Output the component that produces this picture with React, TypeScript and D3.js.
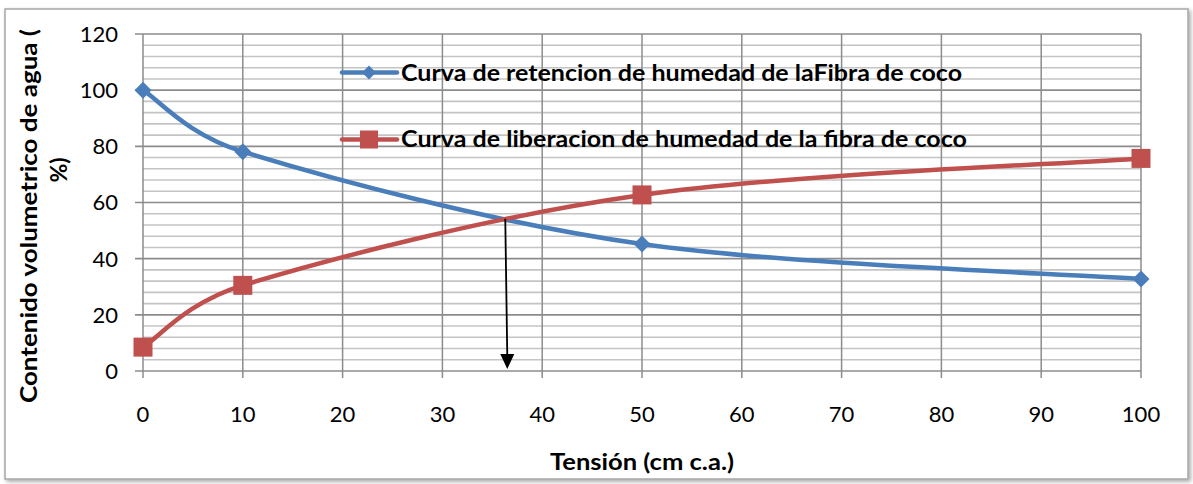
import React from "react";
import * as d3 from "d3";

const tension = [0, 10, 50, 100];
const retencion = [100, 78.1, 45.2, 32.8];
const liberacion = [8.5, 30.5, 62.7, 75.7];
const xTicks = [0, 10, 20, 30, 40, 50, 60, 70, 80, 90, 100];
const yMajor = [0, 20, 40, 60, 80, 100, 120];
const yMinor = d3.range(0, 121, 4);
const legendLabels = [
  "Curva de retencion de humedad de laFibra de coco",
  "Curva de liberacion de humedad de la fibra de coco",
];
const yTitle = ["Contenido volumetrico de agua (", "%)"];
const xTitle = "Tensión (cm c.a.)";
// arrow annotation (data space): from the crossing point down to the axis
const arrowFrom = [36.3, 54.2];
const arrowTo = [36.5, 0.7];

const BLUE = "#4a7ebb";
const RED = "#c0504d";
const FONT = "Lato, 'Open Sans', sans-serif";

// Excel-like smoothed line: Bezier with 1/6 tangents, capped at half the segment length
function excelSmooth(pts: [number, number][]) {
  const p = d3.path();
  const n = pts.length;
  const dist = (a: number[], b: number[]) => Math.hypot(b[0] - a[0], b[1] - a[1]);
  p.moveTo(pts[0][0], pts[0][1]);
  for (let i = 0; i < n - 1; i++) {
    const p0 = pts[Math.max(0, i - 1)];
    const p1 = pts[i];
    const p2 = pts[i + 1];
    const p3 = pts[Math.min(n - 1, i + 2)];
    const d12 = dist(p1, p2);
    let t1x = (p2[0] - p0[0]) / 6, t1y = (p2[1] - p0[1]) / 6;
    let t2x = (p3[0] - p1[0]) / 6, t2y = (p3[1] - p1[1]) / 6;
    const l1 = Math.hypot(t1x, t1y), l2 = Math.hypot(t2x, t2y);
    if (l1 > d12 / 2) { t1x *= d12 / 2 / l1; t1y *= d12 / 2 / l1; }
    if (l2 > d12 / 2) { t2x *= d12 / 2 / l2; t2y *= d12 / 2 / l2; }
    p.bezierCurveTo(p1[0] + t1x, p1[1] + t1y, p2[0] - t2x, p2[1] - t2y, p2[0], p2[1]);
  }
  return p.toString();
}

export default function App() {
  const W = 1193, H = 484;
  const x = d3.scaleLinear().domain([0, 100]).range([143, 1141]);
  const y = d3.scaleLinear().domain([0, 120]).range([371, 34]);
  const blueData = tension.map((t, i) => [t, retencion[i]] as [number, number]);
  const redData = tension.map((t, i) => [t, liberacion[i]] as [number, number]);
  const toPx = (d: [number, number]) => [x(d[0]), y(d[1])] as [number, number];

  const diamond = (cx: number, cy: number, r: number) =>
    `M${cx},${cy - r}L${cx + r},${cy}L${cx},${cy + r}L${cx - r},${cy}Z`;

  const ax1 = x(arrowFrom[0]), ay1 = y(arrowFrom[1]);
  const ax2 = x(arrowTo[0]), ay2 = y(arrowTo[1]);

  return (
    <svg
      width={W}
      height={H}
      style={{ position: "absolute", left: 0, top: 0, display: "block", background: "#fff" }}
      fontFamily={FONT}
    >
      <defs>
        <filter id="shadow" x="-2%" y="-2%" width="104%" height="106%">
          <feGaussianBlur in="SourceAlpha" stdDeviation="2" />
          <feOffset dx="2" dy="2" result="b" />
          <feComponentTransfer>
            <feFuncA type="linear" slope="0.35" />
          </feComponentTransfer>
          <feMerge>
            <feMergeNode />
            <feMergeNode in="SourceGraphic" />
          </feMerge>
        </filter>
      </defs>
      <rect x={5} y={9} width={1183} height={470} fill="#fff" stroke="#a6a6a6" strokeWidth={1.5} filter="url(#shadow)" />

      {/* minor gridlines */}
      {yMinor.filter((v) => v % 20 !== 0).map((v) => (
        <line key={"mn" + v} x1={x(0)} x2={x(100)} y1={y(v)} y2={y(v)} stroke="#c4c4c4" strokeWidth={1.6} />
      ))}
      {/* vertical gridlines */}
      {xTicks.map((v) => (
        <line key={"vx" + v} x1={x(v)} x2={x(v)} y1={y(120)} y2={y(0) + 7} stroke="#8c8c8c" strokeWidth={1.5} />
      ))}
      {/* major gridlines */}
      {yMajor.map((v) => (
        <line key={"mj" + v} x1={x(0) - 8} x2={x(100)} y1={y(v)} y2={y(v)} stroke="#8c8c8c" strokeWidth={1.6} />
      ))}

      {/* y tick labels */}
      {yMajor.map((v) => (
        <text key={"yl" + v} x={118} y={y(v)} dy="0.36em" textAnchor="end" fontSize={22} fill="#000">
          {v}
        </text>
      ))}
      {/* x tick labels */}
      {xTicks.map((v) => (
        <text key={"xl" + v} x={x(v)} y={421.5} textAnchor="middle" fontSize={22} fill="#000">
          {v}
        </text>
      ))}

      {/* series */}
      <path d={excelSmooth(blueData.map(toPx))} fill="none" stroke={BLUE} strokeWidth={4.5} strokeLinecap="round" />
      <path d={excelSmooth(redData.map(toPx))} fill="none" stroke={RED} strokeWidth={4.5} strokeLinecap="round" />
      {blueData.map((d, i) => (
        <path key={"bd" + i} d={diamond(x(d[0]), y(d[1]), 8.5)} fill={BLUE} />
      ))}
      {redData.map((d, i) => (
        <rect key={"rs" + i} x={x(d[0]) - 9.5} y={y(d[1]) - 9.5} width={19} height={19} fill={RED} />
      ))}

      {/* arrow annotation */}
      <line x1={ax1} y1={ay1} x2={ax2} y2={ay2 - 13} stroke="#000" strokeWidth={1.8} />
      <path d={`M${ax2},${ay2}L${ax2 - 7},${ay2 - 15}L${ax2 + 7},${ay2 - 15}Z`} fill="#000" />

      {/* legend */}
      <line x1={342} x2={397} y1={72.5} y2={72.5} stroke={BLUE} strokeWidth={4.5} strokeLinecap="round" />
      <path d={diamond(369, 72.5, 7)} fill={BLUE} />
      <text x={401} y={80.5} fontSize={23} fontWeight="bold" textLength={561} lengthAdjust="spacingAndGlyphs">
        {legendLabels[0]}
      </text>
      <line x1={342} x2={397} y1={139.5} y2={139.5} stroke={RED} strokeWidth={4.5} strokeLinecap="round" />
      <rect x={360} y={130.5} width={18} height={18} fill={RED} />
      <text x={401} y={147} fontSize={23} fontWeight="bold" textLength={566} lengthAdjust="spacingAndGlyphs">
        {legendLabels[1]}
      </text>

      {/* y title */}
      <text
        transform={`translate(37,216) rotate(-90)`}
        textAnchor="middle"
        fontSize={23}
        fontWeight="bold"
        textLength={374}
        lengthAdjust="spacingAndGlyphs"
      >
        {yTitle[0]}
      </text>
      <text transform={`translate(67,170) rotate(-90)`} textAnchor="middle" fontSize={23} fontWeight="bold">
        {yTitle[1]}
      </text>

      {/* x title */}
      <text x={642} y={470} textAnchor="middle" fontSize={22} fontWeight="bold" textLength={184} lengthAdjust="spacingAndGlyphs">
        {xTitle}
      </text>
    </svg>
  );
}
